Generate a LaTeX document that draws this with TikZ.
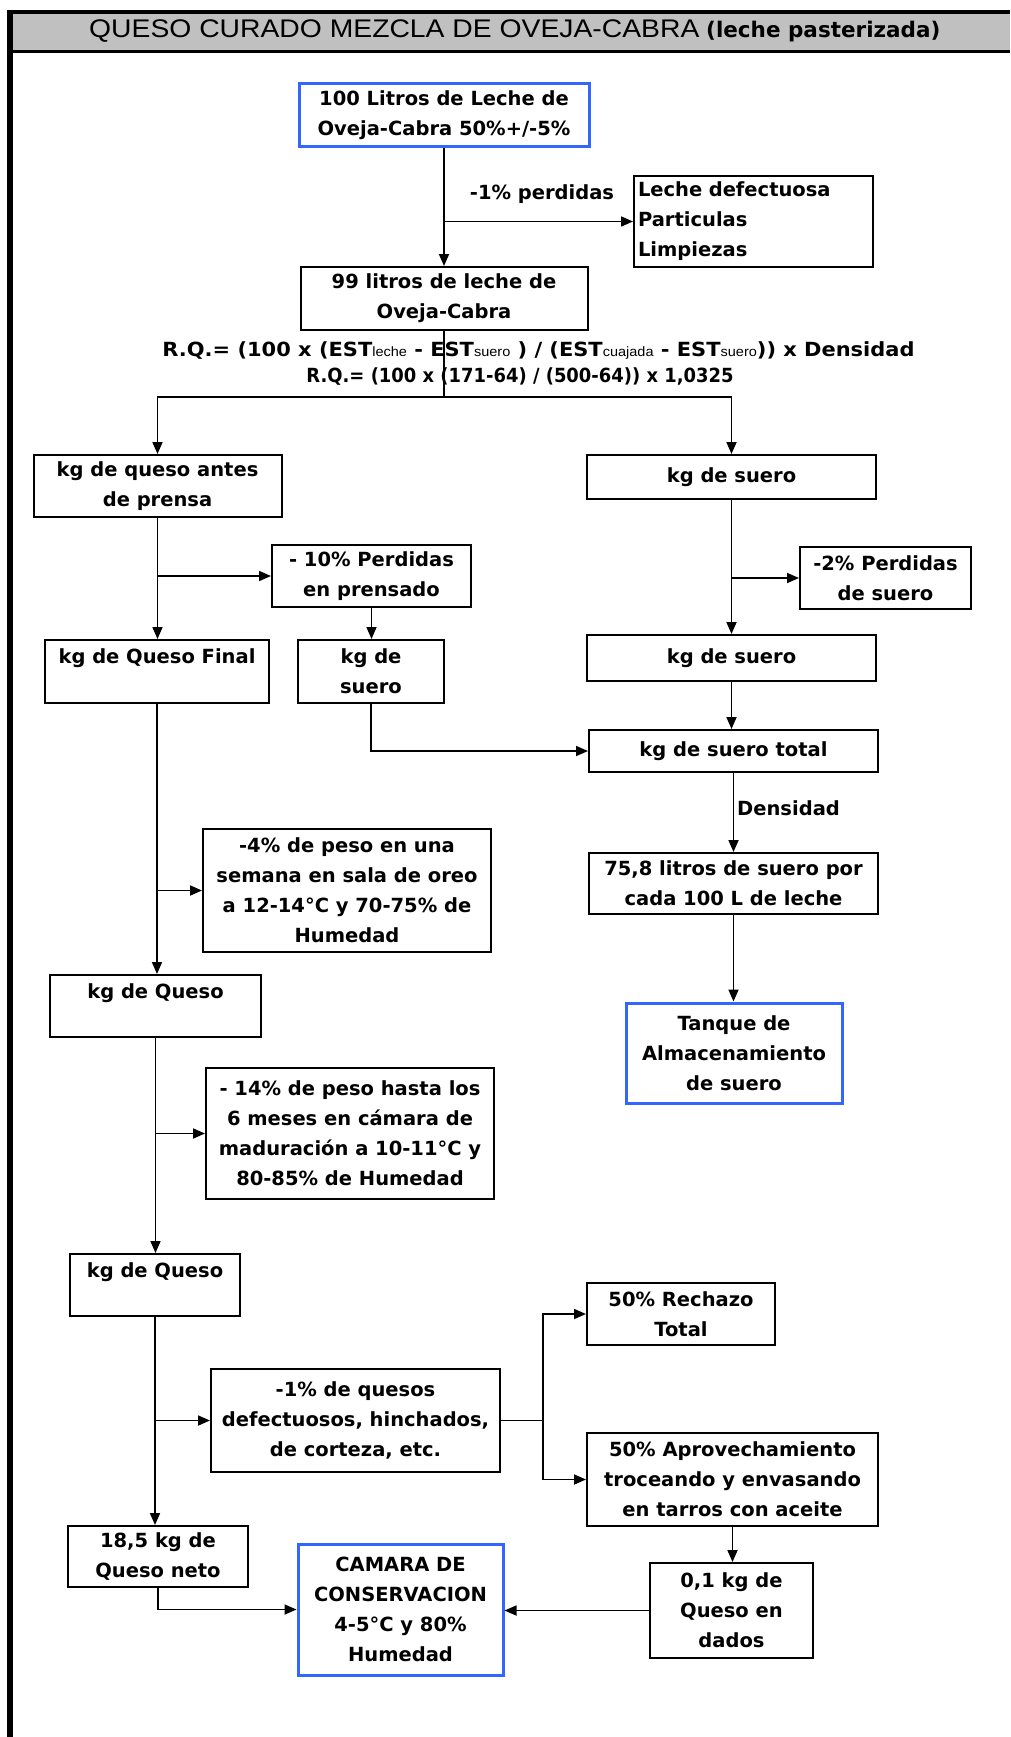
\documentclass[tikz,border=0pt]{standalone}
\usepackage{fontspec}
\setmainfont{DejaVu Sans}
\newfontfamily\titlefamily{Liberation Sans}
\usetikzlibrary{arrows.meta}
\definecolor{boxblue}{RGB}{51,102,255}
\definecolor{headgray}{RGB}{192,192,192}
% small regular subscript text used in the yield formula
\newcommand\subtxt[1]{{\titlefamily\mdseries\fontsize{13.5}{13.5}\selectfont #1}}

\begin{document}
\begin{tikzpicture}[x=1pt,y=-1pt,
  txt/.style={font=\bfseries\fontsize{19.5}{30}\selectfont},
  box/.style={txt, draw=black, line width=2pt, align=center, inner sep=0pt},
  bluebox/.style={box, draw=boxblue, line width=3pt},
  link/.style={line width=1.7pt},
  arr/.style={link, -{Triangle[length=12pt,width=10pt]}},
]
\useasboundingbox (0,0) rectangle (1010,1737);

% header band and frame
\fill[headgray] (7,12) rectangle (1010,51);
\draw[line width=4pt] (7,12) -- (1010,12);
\draw[line width=3pt] (7,52) -- (1010,52);
\draw[line width=6pt] (9.5,10) -- (9.5,1737);

\node[anchor=base west, inner sep=0pt] (title) at (89,38)
  {\titlefamily\fontsize{25.5}{25.5}\selectfont\scalebox{1.11}[1]{QUESO CURADO MEZCLA DE OVEJA-CABRA}};
\node[anchor=base west, inner sep=0pt, font=\bfseries\fontsize{21.5}{21.5}\selectfont] (subtitle) at (706,38)
  {(leche pasterizada)};

% milk reception
\node[bluebox, minimum width=290pt, minimum height=63pt] (b100) at (444,115)
  {100 Litros de Leche de\\Oveja-Cabra 50\%+/-5\%};
\node[box, minimum width=239pt, minimum height=91pt, text width=231pt, inner xsep=4pt, align=left] (bdef) at (753.5,221.5)
  {Leche defectuosa\\Particulas\\Limpiezas};
\node[txt, inner sep=0pt] (loss) at (542,194) {-1\% perdidas};
\node[box, minimum width=287pt, minimum height=63pt] (b99) at (444,298.5)
  {99 litros de leche de\\Oveja-Cabra};

% yield formula
\node[txt, anchor=base, inner sep=0pt] (rq1) at (538.5,356)
  {\scalebox{1.075}[1]{R.Q.= (100 x (EST\subtxt{leche} - EST\subtxt{suero} ) / (EST\subtxt{cuajada} - EST\subtxt{suero})) x Densidad}};
\node[txt, anchor=base, inner sep=0pt] (rq2) at (520,382)
  {\scalebox{0.92}[1]{R.Q.= (100 x (171-64) / (500-64)) x 1,0325}};

% cheese branch
\node[box, minimum width=248pt, minimum height=62pt] (bqa) at (157.5,486) {kg de queso antes\\de prensa};
\node[box, minimum width=199pt, minimum height=62pt] (b10) at (371.5,576) {- 10\% Perdidas\\en prensado};
\node[box, minimum width=224pt, minimum height=63pt] (bqf) at (157,671.5) {kg de Queso Final\\\mbox{}};
\node[box, minimum width=146pt, minimum height=63pt] (bsuA) at (371,671.5) {kg de\\suero};
\node[box, minimum width=288pt, minimum height=123pt] (b4) at (347,890.5)
  {-4\% de peso en una\\semana en sala de oreo\\a 12-14°C y 70-75\% de\\Humedad};
\node[box, minimum width=211pt, minimum height=62pt] (bq1) at (155.5,1006) {kg de Queso\\\mbox{}};
\node[box, minimum width=288pt, minimum height=131pt] (b14) at (350,1133.5)
  {- 14\% de peso hasta los\\6 meses en cámara de\\maduración a 10-11°C y\\80-85\% de Humedad};
\node[box, minimum width=170pt, minimum height=62pt] (bq2) at (155,1285) {kg de Queso\\\mbox{}};
\node[box, minimum width=289pt, minimum height=103pt] (b1) at (355.5,1420.5)
  {-1\% de quesos\\defectuosos, hinchados,\\de corteza, etc.};
\node[box, minimum width=188pt, minimum height=62pt] (brech) at (681,1314) {50\% Rechazo\\Total};
\node[box, minimum width=291pt, minimum height=93pt] (bapr) at (732.5,1479.5)
  {50\% Aprovechamiento\\troceando y envasando\\en tarros con aceite};
\node[box, minimum width=180pt, minimum height=61pt] (b185) at (158,1556.5) {18,5 kg de\\Queso neto};
\node[bluebox, minimum width=205pt, minimum height=131pt] (cam) at (400.5,1609.5)
  {CAMARA DE\\CONSERVACION\\4-5°C y 80\%\\Humedad};
\node[box, minimum width=163pt, minimum height=95pt] (b01) at (731.5,1610.5) {0,1 kg de\\Queso en\\dados};

% whey branch
\node[box, minimum width=289pt, minimum height=44pt] (bsu1) at (731.5,477) {kg de suero};
\node[box, minimum width=171pt, minimum height=62pt] (b2) at (885.5,578) {-2\% Perdidas\\de suero};
\node[box, minimum width=289pt, minimum height=46pt] (bsu2) at (731.5,658) {kg de suero};
\node[box, minimum width=289pt, minimum height=42pt] (bst) at (733.5,751) {kg de suero total};
\node[txt, anchor=west, inner sep=0pt] (dens) at (737,808) {Densidad};
\node[box, minimum width=289pt, minimum height=61pt] (b75) at (733.5,883.5)
  {75,8 litros de suero por\\cada 100 L de leche};
\node[bluebox, minimum width=216pt, minimum height=100pt] (tank) at (734,1053)
  {Tanque de\\Almacenamiento\\de suero};

% connectors
\draw[arr] (b100.south) -- (b99.north);
\draw[arr] (b100.south |- bdef.west) -- (bdef.west);
\coordinate (split) at (444,397);
\draw[link] (b99.south) -- (split);
\draw[arr] (split) -| (bqa.north);
\draw[arr] (split) -| (bsu1.north);

\draw[arr] (bqa.south) -- (bqa.south |- bqf.north);
\draw[arr] (bqa.south |- b10.west) -- (b10.west);
\draw[arr] (b10.south) -- (b10.south |- bsuA.north);
\draw[arr] (bsuA.south) |- (bst.west);

\draw[arr] (bsu1.south) -- (bsu1.south |- bsu2.north);
\draw[arr] (bsu1.south |- b2.west) -- (b2.west);
\draw[arr] (bsu2.south) -- (bsu2.south |- bst.north);
\draw[arr] (bst.south) -- (bst.south |- b75.north);
\draw[arr] (b75.south) -- (b75.south |- tank.north);

\draw[arr] (bqf.south) -- (bqf.south |- bq1.north);
\draw[arr] (bqf.south |- b4.west) -- (b4.west);
\draw[arr] (bq1.south) -- (bq1.south |- bq2.north);
\draw[arr] (bq1.south |- b14.west) -- (b14.west);
\draw[arr] (bq2.south) -- (bq2.south |- b185.north);
\draw[arr] (bq2.south |- b1.west) -- (b1.west);

\coordinate (fork) at (543,1420.5);
\draw[link] (b1.east) -- (fork);
\draw[arr] (fork) |- (brech.west);
\draw[arr] (fork) |- (bapr.west);
\draw[arr] (bapr.south) -- (bapr.south |- b01.north);
\draw[arr] (b185.south) |- (cam.west);
\draw[arr] (b01.west) -- (b01.west -| cam.east);
\end{tikzpicture}
\end{document}
